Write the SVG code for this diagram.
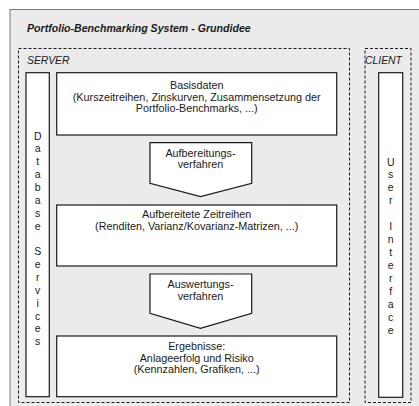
<svg xmlns="http://www.w3.org/2000/svg" width="419" height="406" viewBox="0 0 419 406">
<style>
text { font-family: "Liberation Sans", Arial, sans-serif; font-size: 10.8px; fill: #1a1a1a; }
.c { text-anchor: middle; }
.box { fill: #ffffff; stroke: #1a1a1a; stroke-width: 1.2; }
.dash { fill: none; stroke: #1a1a1a; stroke-width: 1; stroke-dasharray: 3 2; }
.title { font-weight: bold; font-style: italic; font-size: 10.6px; }
.it { font-style: italic; font-size: 10.4px; }
.v { font-size: 10.5px; }
</style>
<rect x="0" y="0" width="419" height="406" fill="#ffffff"/>
<rect id="frame" x="10" y="9.5" width="420" height="410" fill="#ebebeb" stroke="#7a7a7a" stroke-width="1"/>
<text class="title" x="27" y="32">Portfolio-Benchmarking System - Grundidee</text>
<g id="server">
<rect class="dash" x="18.5" y="48.5" width="331" height="354"/>
<text class="it" x="27" y="63.5">SERVER</text>
</g>
<g id="client">
<rect class="dash" x="365" y="48.5" width="46" height="354"/>
<text class="it" x="365" y="63.5">CLIENT</text>
</g>
<g id="database-services">
<rect class="box" x="26" y="72.7" width="23.3" height="324"/>
<text class="c v" x="37.7" y="139.5">
<tspan x="37.7" dy="0">D</tspan><tspan x="37.7" dy="12.86">a</tspan><tspan x="37.7" dy="12.86">t</tspan><tspan x="37.7" dy="12.86">a</tspan><tspan x="37.7" dy="12.86">b</tspan><tspan x="37.7" dy="12.86">a</tspan><tspan x="37.7" dy="12.86">s</tspan><tspan x="37.7" dy="12.86">e</tspan><tspan x="37.7" dy="25.72">S</tspan><tspan x="37.7" dy="12.86">e</tspan><tspan x="37.7" dy="12.86">r</tspan><tspan x="37.7" dy="12.86">v</tspan><tspan x="37.7" dy="12.86">i</tspan><tspan x="37.7" dy="12.86">c</tspan><tspan x="37.7" dy="12.86">e</tspan><tspan x="37.7" dy="12.86">s</tspan>
</text>
</g>
<g id="user-interface">
<rect class="box" x="378.7" y="72.7" width="24" height="324.6"/>
<text class="c v" x="390.7" y="165.5">
<tspan x="390.7" dy="0">U</tspan><tspan x="390.7" dy="12.95">s</tspan><tspan x="390.7" dy="12.95">e</tspan><tspan x="390.7" dy="12.95">r</tspan><tspan x="390.7" dy="25.9">I</tspan><tspan x="390.7" dy="12.95">n</tspan><tspan x="390.7" dy="12.95">t</tspan><tspan x="390.7" dy="12.95">e</tspan><tspan x="390.7" dy="12.95">r</tspan><tspan x="390.7" dy="12.95">f</tspan><tspan x="390.7" dy="12.95">a</tspan><tspan x="390.7" dy="12.95">c</tspan><tspan x="390.7" dy="12.95">e</tspan>
</text>
</g>
<g id="basisdaten">
<rect class="box" x="56.7" y="72.7" width="280" height="62.3"/>
<text class="c" x="196.7" y="89.3">Basisdaten</text>
<text class="c" x="196.7" y="100.7">(Kurszeitreihen, Zinskurven, Zusammensetzung der</text>
<text class="c" x="196.7" y="112">Portfolio-Benchmarks, ...)</text>
</g>
<g id="connectors">
<g id="aufbereitungsverfahren">
<polygon class="box" points="150,142.7 251.7,142.7 251.7,183.3 200.5,196.7 150,183.3"/>
<text class="c" x="200.5" y="156.7">Aufbereitungs-</text>
<text class="c" x="200.5" y="168.3">verfahren</text>
</g>
<g id="auswertungsverfahren">
<polygon class="box" points="150,274 251.7,274 251.7,313.3 200.5,328.3 150,313.3"/>
<text class="c" x="200.5" y="288.3">Auswertungs-</text>
<text class="c" x="200.5" y="300">verfahren</text>
</g>
</g>
<g id="aufbereitete-zeitreihen">
<rect class="box" x="56.7" y="205" width="280" height="61"/>
<text class="c" x="196.7" y="218.3">Aufbereitete Zeitreihen</text>
<text class="c" x="196.7" y="230">(Renditen, Varianz/Kovarianz-Matrizen, ...)</text>
</g>
<g id="ergebnisse">
<rect class="box" x="56.7" y="336" width="280" height="60.7"/>
<text class="c" x="196.7" y="350">Ergebnisse:</text>
<text class="c" x="196.7" y="361.7">Anlageerfolg und Risiko</text>
<text class="c" x="196.7" y="373.3">(Kennzahlen, Grafiken, ...)</text>
</g>
</svg>
